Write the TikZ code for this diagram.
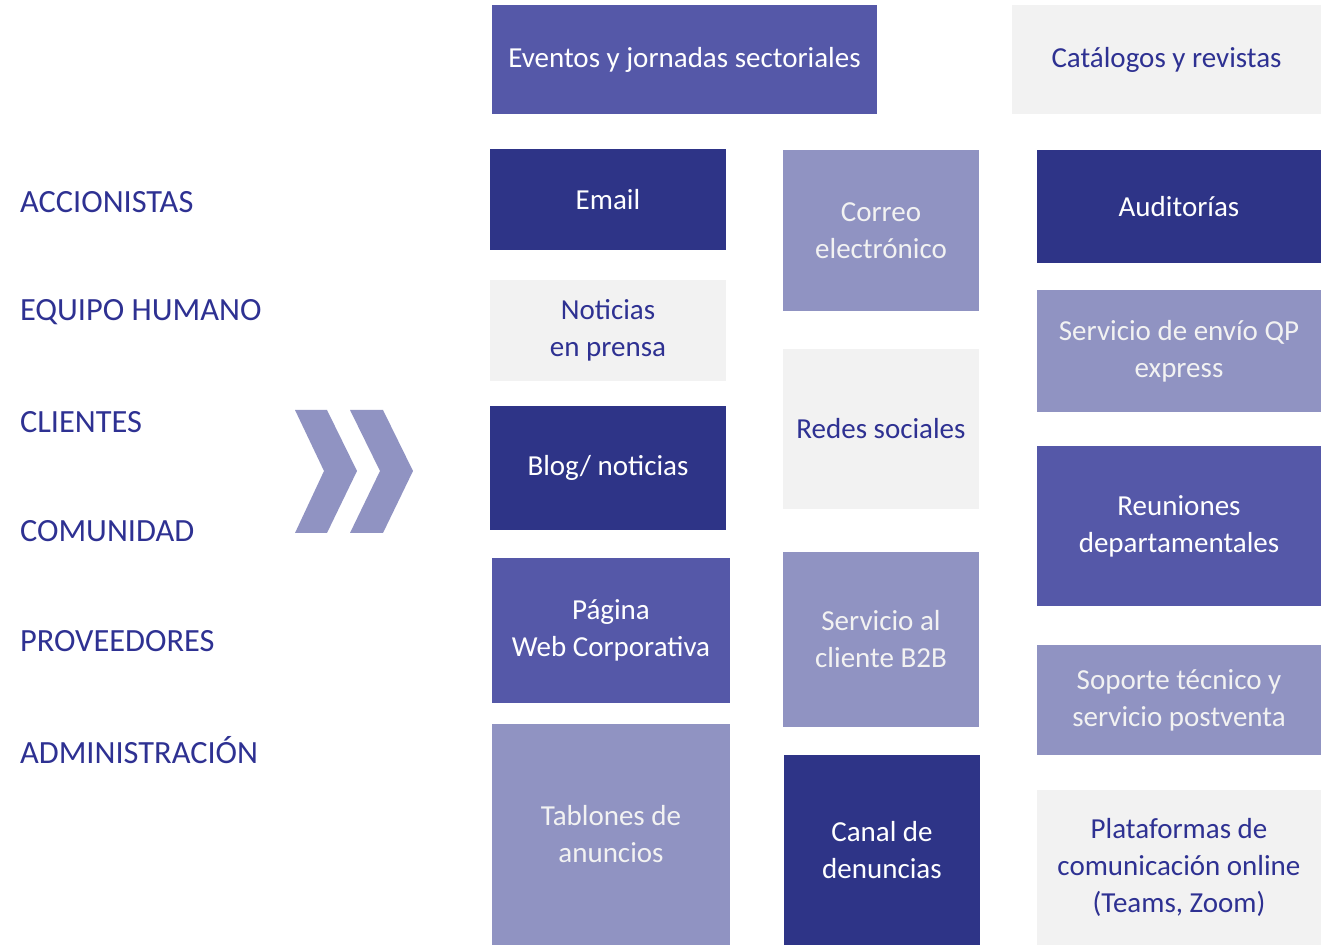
\documentclass[tikz,border=0pt]{standalone}
\usepackage{fontspec}
\setmainfont{Carlito}
\usepackage{tikz}
\usetikzlibrary{positioning}

\definecolor{navy}{HTML}{2E3487}
\definecolor{mid}{HTML}{5558A8}
\definecolor{soft}{HTML}{9093C2}
\definecolor{pale}{HTML}{F2F2F2}
\definecolor{ink}{HTML}{2E3192}

\begin{document}
\begin{tikzpicture}[x=0.5pt,y=-0.5pt,
        chan/.style={rectangle,inner sep=2pt,align=center,font=\fontsize{14.5}{18.5}\selectfont},
        wh/.style 2 args={minimum width=#1*0.5pt,minimum height=#2*0.5pt},
        dark/.style={chan,fill=navy,text=white},
        medium/.style={chan,fill=mid,text=white},
        light/.style={chan,fill=soft,text=pale},
        blank/.style={chan,fill=pale,text=ink},
        group/.style={anchor=west,text=ink,font=\fontsize{16.2}{19}\selectfont}]

      \useasboundingbox (0,0) rectangle (1330,945);

      % stakeholder groups
      \node[group] (acc)  at (13,202) {ACCIONISTAS};
      \node[group] (equ)  at (13,312) {EQUIPO HUMANO};
      \node[group] (cli)  at (13,422) {CLIENTES};
      \node[group] (com)  at (13,531) {COMUNIDAD};
      \node[group] (pro)  at (13,641) {PROVEEDORES};
      \node[group] (adm)  at (13,750) {ADMINISTRACIÓN};

      % chevrons
      \fill[soft] (295,410) -- (327,410) -- (357,471) -- (327,533) -- (295,533) -- (324,471) -- cycle;
      \fill[soft] (350,410) -- (383,410) -- (413,471) -- (383,533) -- (350,533) -- (380,471) -- cycle;

      % top row
      \node[medium,wh={385}{109}] (evt) at (684.5,59.5) {Eventos y jornadas sectoriales};
      \node[blank,wh={309}{109}]  (cat) at (1166.5,59.5) {Catálogos y revistas};

      % first column
      \node[dark,wh={236}{101}]   (email)  at (608,199.5) {Email};
      \node[blank,wh={236}{101}]  (prensa) at (608,330.5) {Noticias\\en prensa};
      \node[dark,wh={236}{124}]   (blog)   at (608,468)   {Blog/ noticias};
      \node[medium,wh={238}{145}] (web)    at (611,630.5) {Página\\Web Corporativa};
      \node[light,wh={238}{221}]  (tablon) at (611,834.5) {Tablones de\\anuncios};

      % second column
      \node[light,wh={196}{161}]  (correo) at (881,230.5) {Correo\\electrónico};
      \node[blank,wh={196}{160}]  (redes)  at (881,429)   {Redes sociales};
      \node[light,wh={196}{175}]  (btob)   at (881,639.5) {Servicio al\\cliente B2B};
      \node[dark,wh={196}{190}]   (canal)  at (882,850)   {Canal de\\denuncias};

      % third column
      \node[dark,wh={284}{113}]   (audit)   at (1179,206.5) {Auditorías};
      \node[light,wh={284}{122}]  (envio)   at (1179,351)   {Servicio de envío QP\\express};
      \node[medium,wh={284}{160}] (reun)    at (1179,526)   {Reuniones\\departamentales};
      \node[light,wh={284}{110}]  (soporte) at (1179,700)   {Soporte técnico y\\servicio postventa};
      \node[blank,wh={284}{155}]  (plat)    at (1179,867.5) {Plataformas de\\comunicación online\\(Teams, Zoom)};
    \end{tikzpicture}
\end{document}
